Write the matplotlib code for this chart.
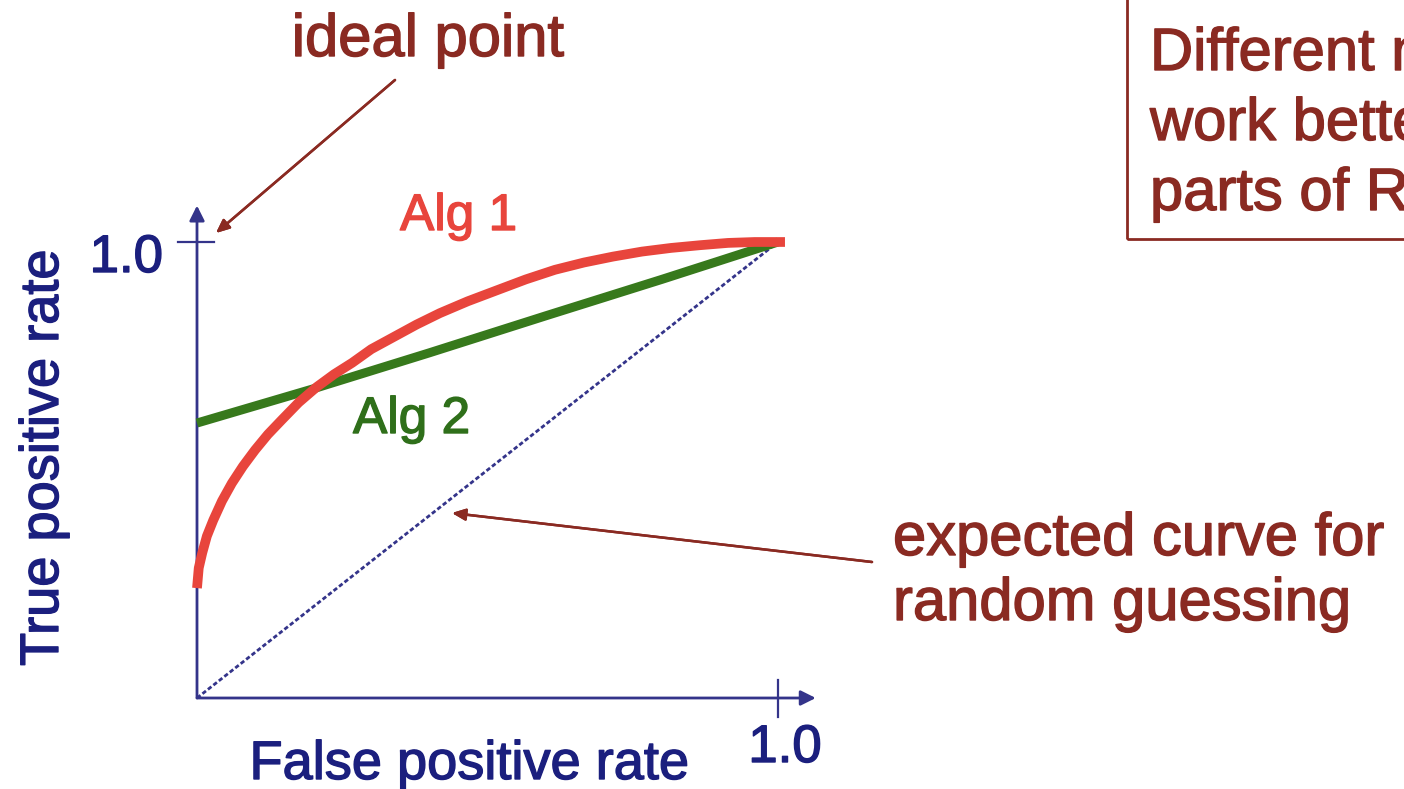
import matplotlib
matplotlib.use("Agg")
import matplotlib.pyplot as plt
import matplotlib.patheffects as pe
from matplotlib.patches import Rectangle

plt.rcParams['font.family'] = ['Liberation Sans', 'DejaVu Sans']

# curve points (false positive rate, true positive rate)
alg1_fpr = [0.0, 0.003, 0.009, 0.017, 0.028, 0.043, 0.060, 0.079, 0.100, 0.122,
            0.146, 0.175, 0.206, 0.236, 0.267, 0.300, 0.339, 0.378, 0.418, 0.466,
            0.518, 0.566, 0.616, 0.666, 0.716, 0.766, 0.816, 0.866, 0.914, 0.960,
            1.0, 1.012]
alg1_tpr = [0.241, 0.285, 0.318, 0.355, 0.390, 0.432, 0.471, 0.508, 0.544, 0.578,
            0.610, 0.648, 0.682, 0.710, 0.735, 0.765, 0.792, 0.819, 0.844, 0.870,
            0.895, 0.918, 0.939, 0.955, 0.968, 0.979, 0.987, 0.993, 0.998, 1.0,
            1.0, 1.0]
alg2_fpr = [0.0, 0.2, 0.4, 0.6, 0.8, 1.0]
alg2_tpr = [0.603, 0.678, 0.757, 0.838, 0.918, 1.0]
random_fpr = [0.0, 1.0]
random_tpr = [0.0, 1.0]
tick_labels = ['1.0']

# colours
navy = '#34348a'
navy_text = '#1b1f7e'
red = '#e8453c'
green = '#37791c'
green_text = '#2f6f1a'
darkred = '#8a2a22'

W, H = 1404, 789
fig = plt.figure(figsize=(W / 100, H / 100), dpi=100)
fig.patch.set_facecolor('white')


# pixel position in the picture -> figure fraction
def fpos(px, py):
    return (px / W, 1 - py / H)


# slightly heavier text, like the slide rendering
def txt(px, py, s, color, size, **kw):
    t = fig.text(*fpos(px, py), s, color=color, fontsize=size, **kw)
    t.set_path_effects([pe.withStroke(linewidth=1.0, foreground=color)])
    return t


ax = fig.add_axes([197 / W, (H - 698) / H, 581 / W, 456 / H])
ax.set_xlim(0, 1)
ax.set_ylim(0, 1)
ax.axis('off')

# axes with arrow heads
ax.annotate('', xy=(0, 1.08), xytext=(0, 0), xycoords='data',
            arrowprops=dict(arrowstyle='-|>,head_length=0.9,head_width=0.45',
                            color=navy, lw=2, shrinkA=0, shrinkB=0),
            annotation_clip=False)
ax.annotate('', xy=(1.065, 0), xytext=(0, 0), xycoords='data',
            arrowprops=dict(arrowstyle='-|>,head_length=0.9,head_width=0.45',
                            color=navy, lw=2, shrinkA=0, shrinkB=0),
            annotation_clip=False)
# tick marks at 1.0
ax.plot([-0.033, 0.029], [1, 1], color=navy, lw=1.6, clip_on=False)
ax.plot([1, 1], [0.039, -0.042], color=navy, lw=1.6, clip_on=False)

# curves
ax.plot(random_fpr, random_tpr, color=navy, lw=2.0, ls=(0, (1.6, 0.9)),
        clip_on=False, zorder=2)
ax.plot(alg2_fpr, alg2_tpr, color=green, lw=6.5, solid_capstyle='butt',
        clip_on=False, zorder=3)
ax.plot(alg1_fpr, alg1_tpr, color=red, lw=7, solid_capstyle='butt',
        solid_joinstyle='round', clip_on=False, zorder=4)

# tick labels and axis labels
txt(163, 272, tick_labels[0], navy_text, 38, ha='right', va='baseline')
txt(785, 762, tick_labels[0], navy_text, 38, ha='center', va='baseline')
txt(469, 779, 'False positive rate', navy_text, 39, ha='center', va='baseline')
txt(44, 458, 'True positive rate', navy_text, 39, ha='center', va='center',
    rotation=90)

# curve labels
txt(400, 230, 'Alg 1', red, 37, ha='left', va='baseline')
txt(353, 433, 'Alg 2', green_text, 37, ha='left', va='baseline')

# ideal point annotation
txt(428, 56, 'ideal point', darkred, 43, ha='center', va='baseline')
fig.add_artist(plt.annotate('', xy=fpos(216, 233), xytext=fpos(395, 80),
                            xycoords='figure fraction',
                            arrowprops=dict(arrowstyle='-|>,head_length=0.8,head_width=0.35',
                                            color=darkred, lw=1.8,
                                            shrinkA=0, shrinkB=0)))

# random guessing annotation
txt(893, 555, 'expected curve for', darkred, 43, ha='left', va='baseline')
txt(893, 620, 'random guessing', darkred, 43, ha='left', va='baseline')
fig.add_artist(plt.annotate('', xy=fpos(452, 513), xytext=fpos(872, 562),
                            xycoords='figure fraction',
                            arrowprops=dict(arrowstyle='-|>,head_length=0.8,head_width=0.35',
                                            color=darkred, lw=1.8,
                                            shrinkA=0, shrinkB=0)))

# boxed note in the top right, running off the edge as in the slide crop
x0, y0 = fpos(1127, 239)
fig.add_artist(Rectangle((x0, y0), 0.5, 0.5, transform=fig.transFigure,
                         fill=False, edgecolor=darkred, lw=2))
note = ['Different methods can', 'work better in different', 'parts of ROC space']
for i, line in enumerate(note):
    txt(1150, 70 + 70 * i, line, darkred, 43, ha='left', va='baseline')

fig.savefig('out.png', dpi=100)
